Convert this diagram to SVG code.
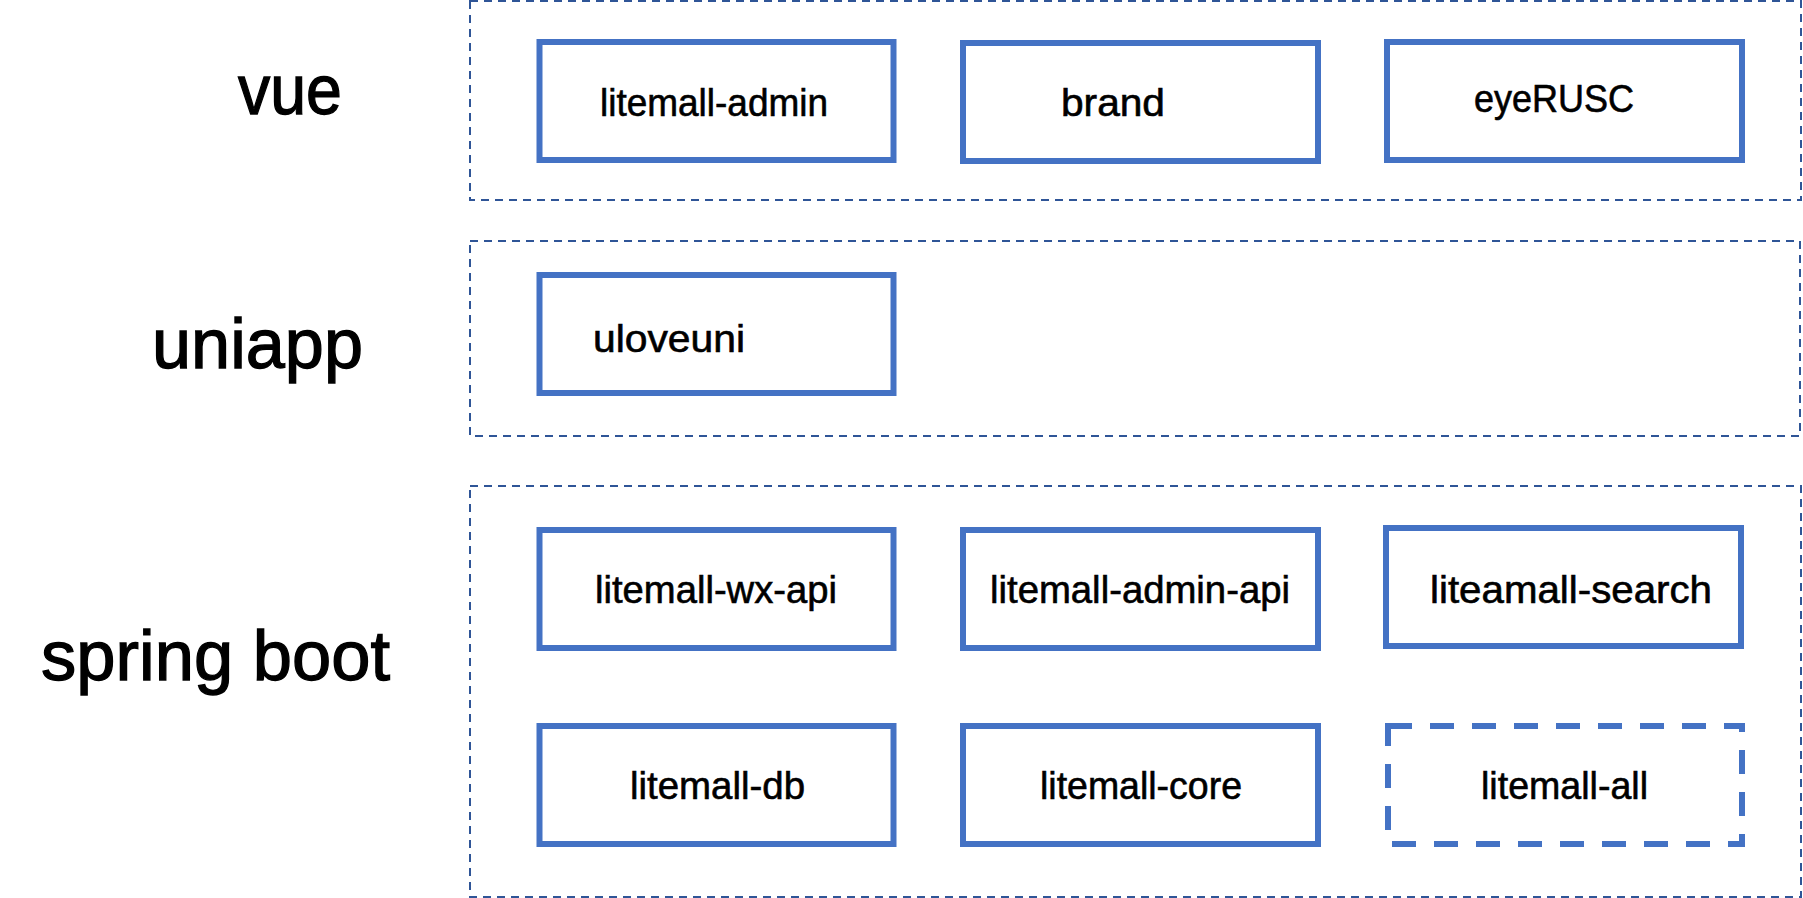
<svg xmlns="http://www.w3.org/2000/svg" width="1803" height="898" viewBox="0 0 1803 898">
<style>
.grp{fill:none;stroke:#2F5597;stroke-width:2;stroke-dasharray:8 6}
.box{fill:#FFFFFF;stroke:#4472C4;stroke-width:6}
.dbox{fill:#FFFFFF;stroke:#4472C4;stroke-width:6;stroke-dasharray:24 18}
.lbl{font-family:"Liberation Sans",Arial,sans-serif;font-size:71px;fill:#000000;stroke:#000000;stroke-width:1.3}
.txt{font-family:"Liberation Sans",Arial,sans-serif;font-size:38px;fill:#000000;stroke:#000000;stroke-width:0.6}
</style>
<rect width="1803" height="898" fill="#FFFFFF"/>
<g id="layer-vue">
<rect class="grp" x="470" y="1" width="1331" height="199"/>
<text class="lbl" x="238" y="114" textLength="104" lengthAdjust="spacingAndGlyphs">vue</text>
</g>
<g id="layer-uniapp">
<rect class="grp" x="470" y="241" width="1330" height="195"/>
<text class="lbl" x="152" y="368" textLength="211" lengthAdjust="spacingAndGlyphs">uniapp</text>
</g>
<g id="layer-springboot">
<rect class="grp" x="470" y="486" width="1331" height="411"/>
<text class="lbl" x="41" y="680" textLength="349" lengthAdjust="spacingAndGlyphs">spring boot</text>
</g>
<g id="litemall-admin">
<rect class="box" x="539.5" y="42" width="354" height="118"/>
<text class="txt" x="600" y="116" textLength="228" lengthAdjust="spacingAndGlyphs">litemall-admin</text>
</g>
<g id="brand">
<rect class="box" x="963" y="43" width="355" height="118"/>
<text class="txt" x="1061" y="116" textLength="104" lengthAdjust="spacingAndGlyphs">brand</text>
</g>
<g id="eyeRUSC">
<rect class="box" x="1387" y="42" width="355" height="118"/>
<text class="txt" x="1474" y="112" textLength="160" lengthAdjust="spacingAndGlyphs">eyeRUSC</text>
</g>
<g id="uloveuni">
<rect class="box" x="539.5" y="275" width="354" height="118"/>
<text class="txt" x="593" y="352" textLength="152" lengthAdjust="spacingAndGlyphs">uloveuni</text>
</g>
<g id="litemall-wx-api">
<rect class="box" x="539.5" y="530" width="354" height="118"/>
<text class="txt" x="595" y="603" textLength="242" lengthAdjust="spacingAndGlyphs">litemall-wx-api</text>
</g>
<g id="litemall-admin-api">
<rect class="box" x="963" y="530" width="355" height="118"/>
<text class="txt" x="990" y="603" textLength="300" lengthAdjust="spacingAndGlyphs">litemall-admin-api</text>
</g>
<g id="liteamall-search">
<rect class="box" x="1386" y="528" width="355" height="118"/>
<text class="txt" x="1430" y="603" textLength="282" lengthAdjust="spacingAndGlyphs">liteamall-search</text>
</g>
<g id="litemall-db">
<rect class="box" x="539.5" y="726" width="354" height="118"/>
<text class="txt" x="630" y="799" textLength="175" lengthAdjust="spacingAndGlyphs">litemall-db</text>
</g>
<g id="litemall-core">
<rect class="box" x="963" y="726" width="355" height="118"/>
<text class="txt" x="1040" y="799" textLength="202" lengthAdjust="spacingAndGlyphs">litemall-core</text>
</g>
<g id="litemall-all">
<rect class="dbox" x="1388" y="726" width="354" height="118"/>
<text class="txt" x="1481" y="799" textLength="167" lengthAdjust="spacingAndGlyphs">litemall-all</text>
</g>
<g id="connectors"></g>
</svg>
